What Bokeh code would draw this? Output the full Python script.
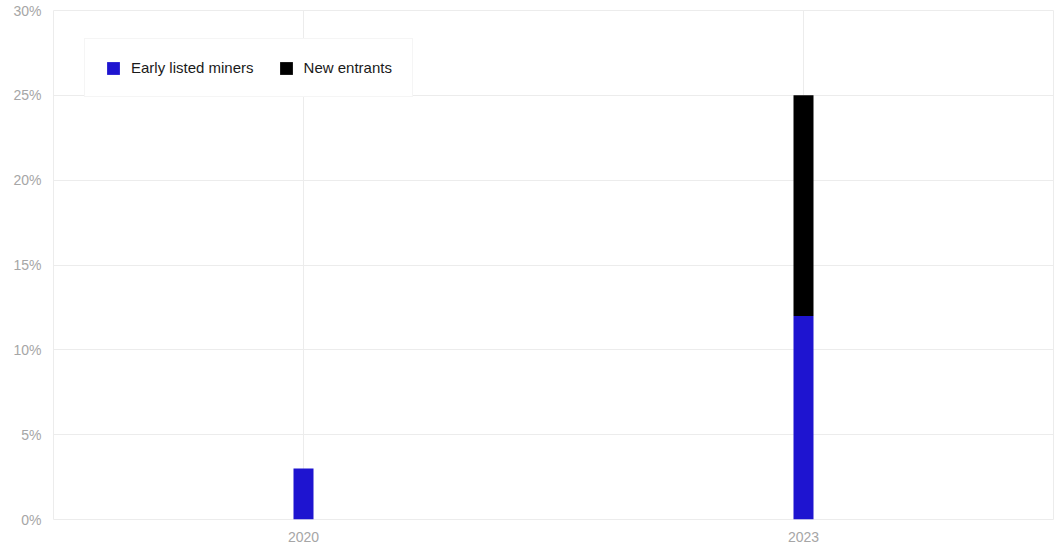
from bokeh.plotting import figure
from bokeh.models import ColumnDataSource, FixedTicker, PrintfTickFormatter, Legend, Range1d
from bokeh.embed import file_html
from bokeh.resources import INLINE

years = ["2020", "2023"]
early_listed = [3, 12]
new_entrants = [0, 13]
series = ["Early listed miners", "New entrants"]
colors = ["#1e14d0", "#000000"]
y_ticks = [0, 5, 10, 15, 20, 25, 30]

src = ColumnDataSource(data={"years": years, "Early listed miners": early_listed, "New entrants": new_entrants})

p = figure(x_range=years, width=1059, height=549, output_backend="svg", toolbar_location=None,
           min_border_left=53, min_border_right=6, min_border_top=10, min_border_bottom=30)
p.y_range = Range1d(0, 30)

r = p.vbar_stack(series, x="years", width=0.04, color=colors, source=src, line_width=0)

font = "Liberation Sans"
p.yaxis.ticker = FixedTicker(ticks=y_ticks)
p.yaxis.formatter = PrintfTickFormatter(format="%d%%")
for ax in (p.xaxis[0], p.yaxis[0]):
    ax.axis_line_color = None
    ax.major_tick_line_color = None
    ax.minor_tick_line_color = None
    ax.major_tick_out = 0
    ax.major_tick_in = 0
    ax.major_label_text_color = "#a6a6a6"
    ax.major_label_text_font = font
    ax.major_label_text_font_size = "14px"
p.yaxis.major_label_standoff = 12
p.xaxis.major_label_standoff = 12

p.xgrid.grid_line_color = "#ececec"
p.ygrid.grid_line_color = "#ececec"
p.outline_line_color = "#ececec"
p.background_fill_color = "white"
p.border_fill_color = "white"

legend = Legend(items=[(s, [rr]) for s, rr in zip(series, r)], location=(31, 422), orientation="horizontal",
                margin=0, padding=20, spacing=24, glyph_width=16, glyph_height=16, label_standoff=10,
                label_height=17, label_text_font=font, label_text_font_size="15px", label_text_color="#1a1a1a",
                border_line_color="#ececec", background_fill_color="white", background_fill_alpha=1)
p.add_layout(legend, "center")

open("out.html", "w").write(file_html(p, INLINE))
